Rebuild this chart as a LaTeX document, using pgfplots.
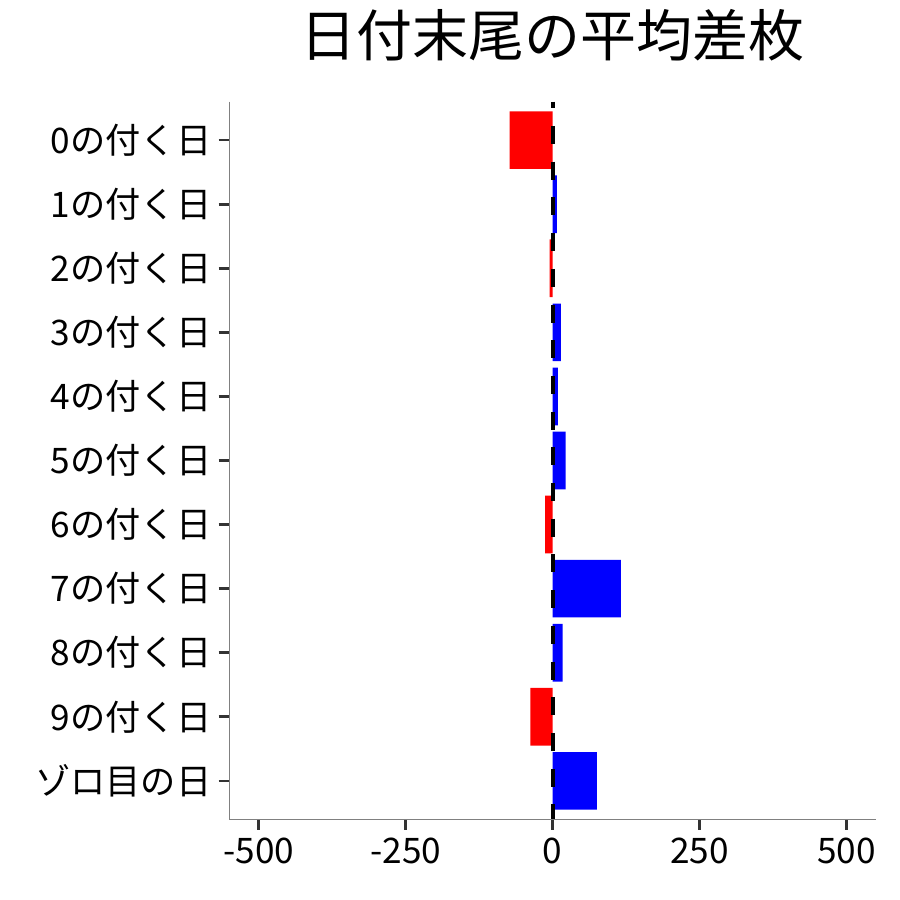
\documentclass[border=0pt]{standalone}
\usepackage{fontspec}
\setmainfont{Noto Sans CJK JP}
\usepackage{pgfplots}
\pgfplotsset{compat=1.18}

\definecolor{axgray}{HTML}{808080}
\definecolor{tkgray}{HTML}{333333}

% values (average difference per date ending)
\pgfplotstableread{
y val
0 -73
2 -5
6 -13
9 -38
}\negtab
\pgfplotstableread{
y val
1 7
3 14
4 9
5 22
7 116
8 17
10 75
}\postab

\begin{document}
\begin{tikzpicture}
\path[use as bounding box] (0,0) rectangle (450pt,450pt);
\begin{axis}[
    at={(114.65pt,40.35pt)}, anchor=south west,
    scale only axis,
    width=323.35pt, height=358.8pt,
    xmin=-550, xmax=550,
    ymin=-0.6, ymax=10.6,
    y dir=reverse,
    axis lines*=left,
    axis line style={axgray, line width=0.7pt},
    every outer x axis line/.append style={-},
    every outer y axis line/.append style={-},
    xtick={-500,-250,0,250,500},
    xticklabels={-500,-250,0,250,500},
    ytick={0,...,10},
    yticklabels={0の付く日,1の付く日,2の付く日,3の付く日,4の付く日,5の付く日,6の付く日,7の付く日,8の付く日,9の付く日,ゾロ目の日},
    tick align=outside,
    major tick length=5.3pt,
    tick style={tkgray, line width=1.3pt},
    tick label style={font=\fontsize{17.6}{20}\selectfont, black},
    yticklabel style={inner sep=0pt, xshift=-3.5pt},
    xticklabel style={inner sep=0pt, yshift=-4pt},
    title={日付末尾の平均差枚},
    title style={at={(0.5,1)}, anchor=base, yshift=16.8pt, inner sep=0pt,
      font=\fontsize{28}{32}\selectfont},
    bar width=0.9, bar shift=0pt,
    clip=true,
  ]
  \addplot[xbar, draw=none, fill=red] table[x=val, y=y] {\negtab};
  \addplot[xbar, draw=none, fill=blue] table[x=val, y=y] {\postab};
  \addplot[black, line width=2.1pt,
    dash pattern=on 9pt off 8.85pt, dash phase=5.7pt]
    coordinates {(0,-0.6) (0,10.6)};
\end{axis}
\end{tikzpicture}
\end{document}
